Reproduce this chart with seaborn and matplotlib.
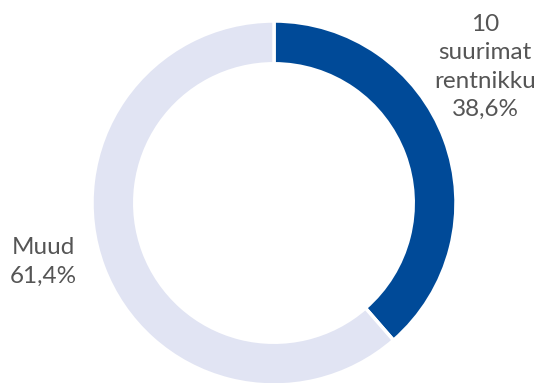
import matplotlib
matplotlib.use("Agg")
import matplotlib.pyplot as plt
import seaborn as sns

labels = ["10\nsuurimat\nrentnikku\n38,6%", "Muud\n61,4%"]
values = [38.6, 61.4]
colors = ["#004a98", "#e1e4f3"]

sns.set_theme(style="white")
plt.rcParams["font.family"] = ["Lato", "DejaVu Sans"]

W, H = 543, 383
fig = plt.figure(figsize=(W / 100, H / 100), dpi=100)
cx, cy, r = 274, 203, 182
ax = fig.add_axes([(cx - r) / W, (H - cy - r) / H, 2 * r / W, 2 * r / H])
ax.pie(values, colors=colors, startangle=90, counterclock=False,
       wedgeprops=dict(width=0.235, edgecolor="white", linewidth=2.5))
ax.set_xlim(-1, 1)
ax.set_ylim(-1, 1)
ax.set_aspect("equal")
ax.axis("off")

tc = "#555555"
fig.text(485 / W, 1 - 67 / H, labels[0], ha="center", va="center",
         fontsize=17.5, color=tc, linespacing=1.42)
fig.text(43 / W, 1 - 262 / H, labels[1], ha="center", va="center",
         fontsize=17.5, color=tc, linespacing=1.42)

fig.savefig("out.png", dpi=100)
